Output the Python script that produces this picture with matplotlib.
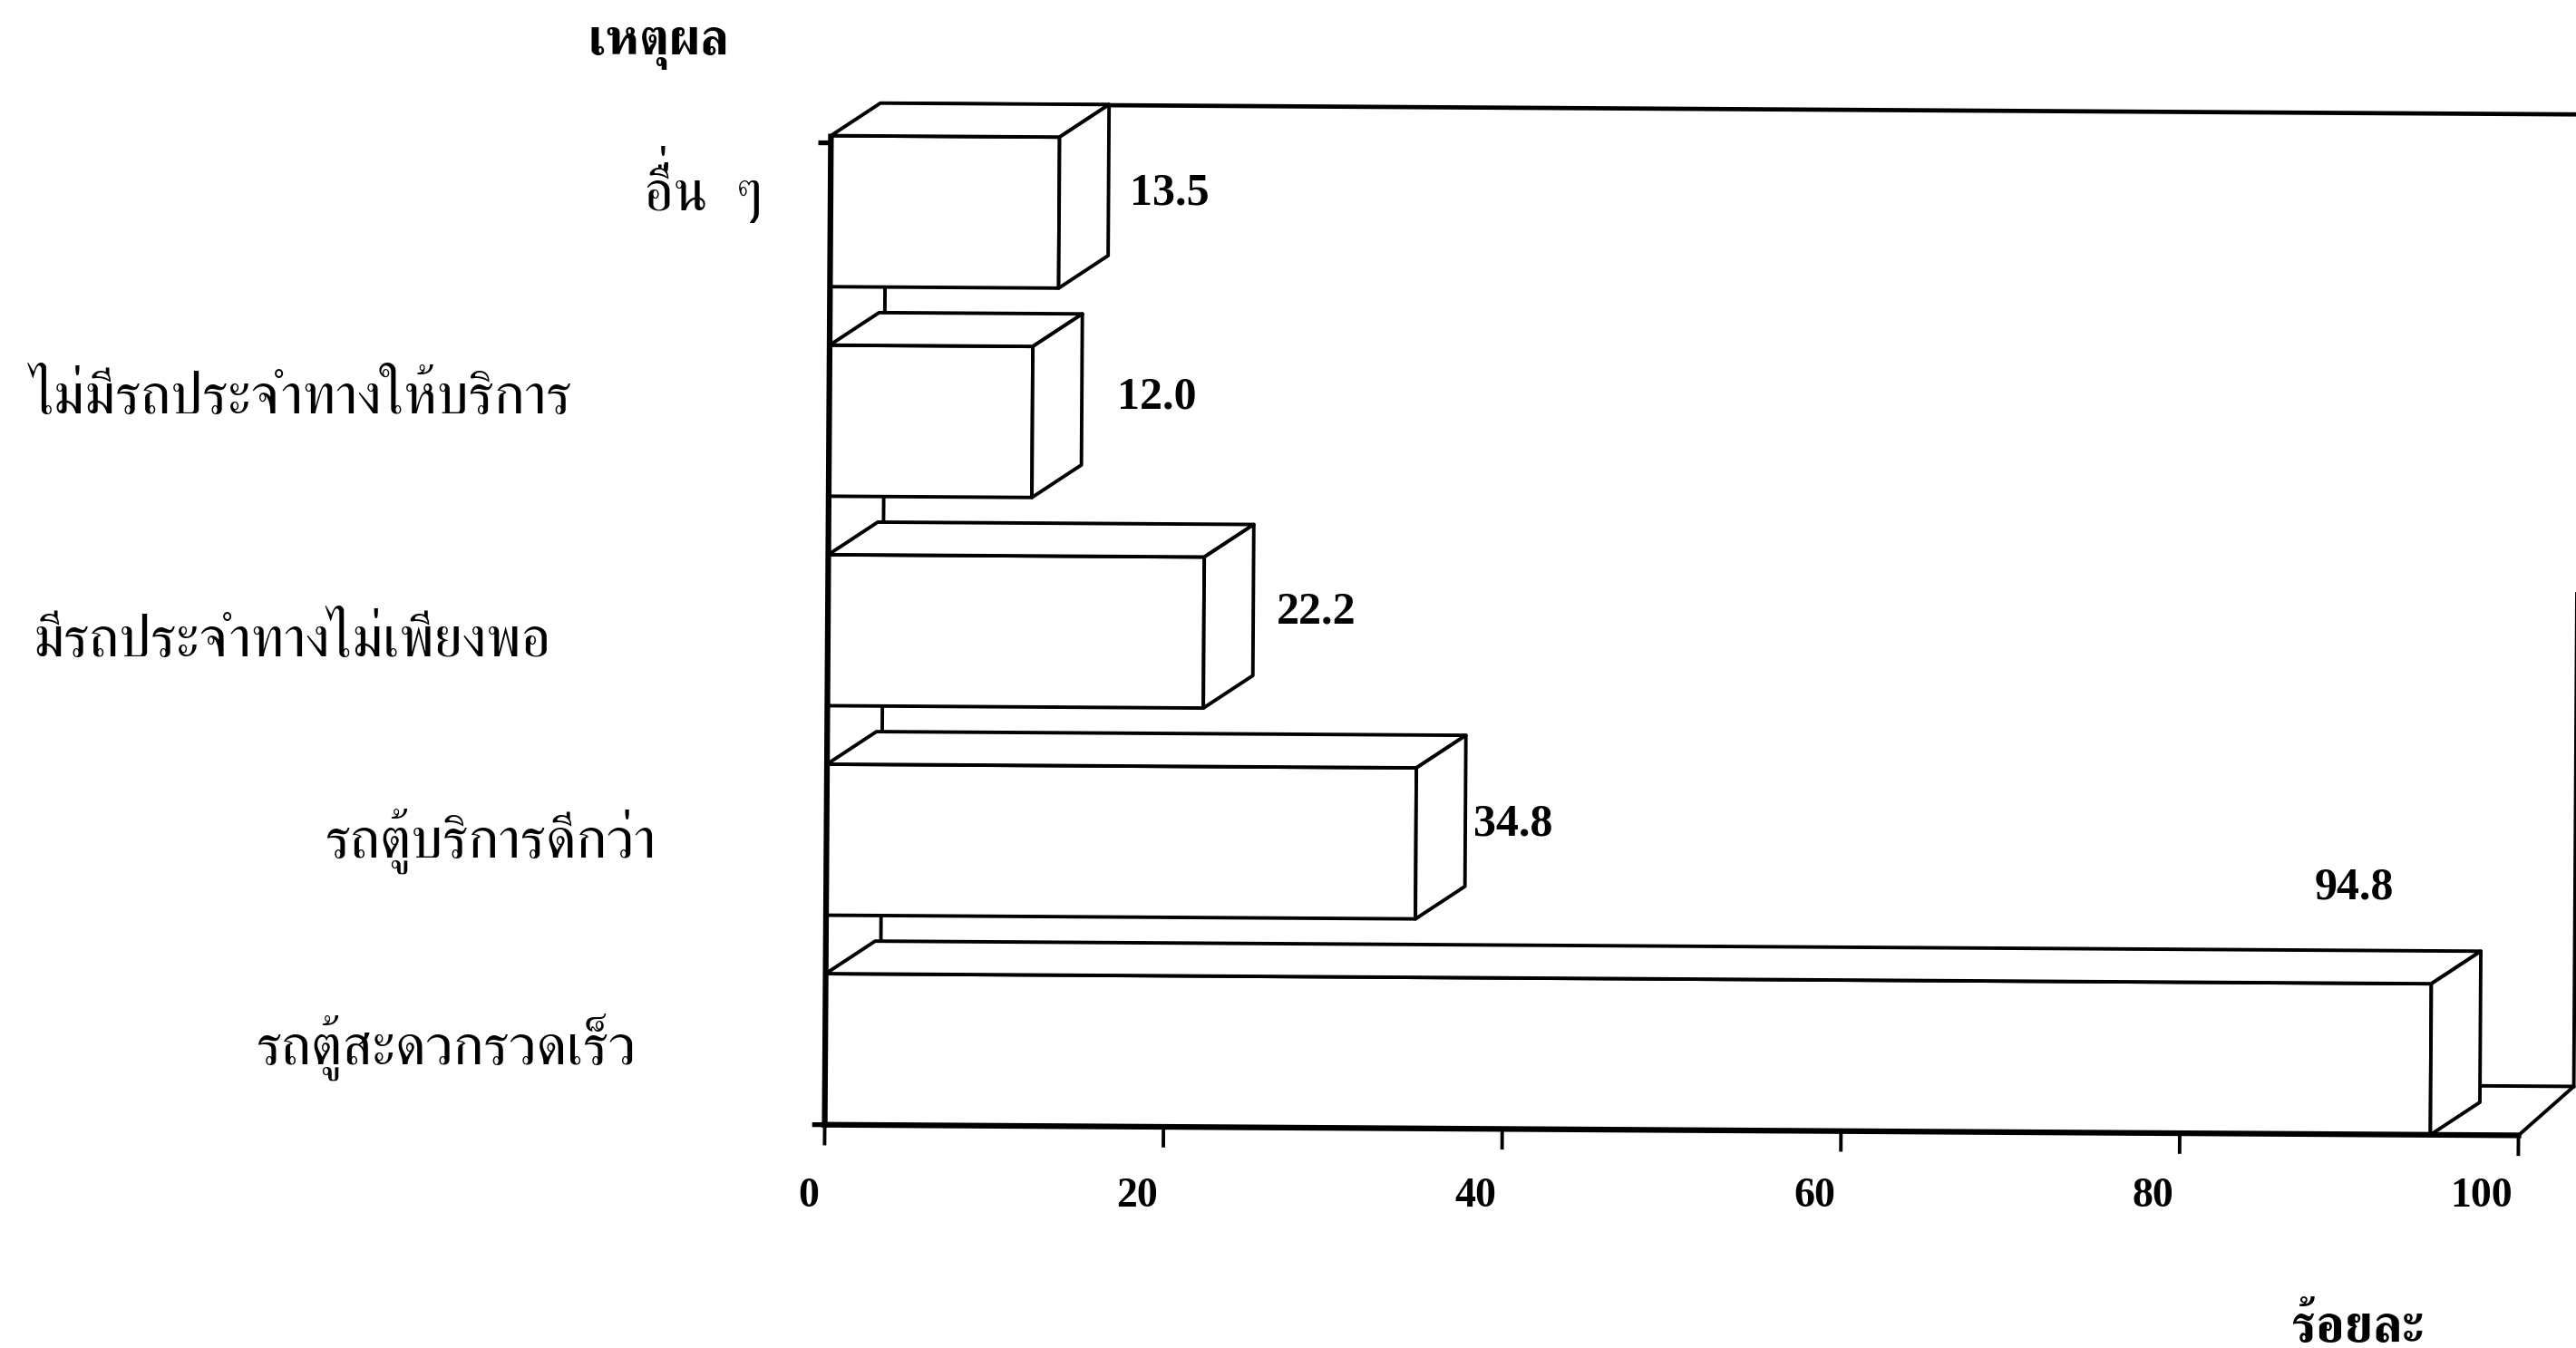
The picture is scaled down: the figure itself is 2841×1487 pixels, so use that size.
'''
Bar chart of reasons (percent), drawn as 3D looking boxes like the scanned original.
Usage: python plot.py
Outputs: out.png
'''
import matplotlib
matplotlib.use("Agg")
import matplotlib.pyplot as plt
from matplotlib.patches import Polygon
from matplotlib.transforms import Affine2D, ScaledTranslation

# Data, bottom row first
categories = ["รถตู้สะดวกรวดเร็ว", "รถตู้บริการดีกว่า", "มีรถประจำทางไม่เพียงพอ",
              "ไม่มีรถประจำทางให้บริการ", "อื่น  ๆ"]
percents = [94.8, 34.8, 22.2, 12.0, 13.5]
value_labels = ["94.8", "34.8", "22.2", "12.0", "13.5"]
x_ticks = [0, 20, 40, 60, 80, 100]
y_title = "เหตุผล"
x_title = "ร้อยละ"

# Layout: sizes of the shrunk 1568x821 view, used to place things by fraction
VIEW_W, VIEW_H = 1568.0, 821.0
X0, X100 = 502.0, 1533.0
Y_BOTTOM, Y_TOP = 685.0, 87.0
ROW_PX = 127.6
ROW0_PX = 639.0
BAR_H = 92.0 / ROW_PX
PX_X = 100 / (X100 - X0)            # one view pixel in data units
DX = 30.0 * PX_X                    # depth of the boxes
DY = 20.0 / ROW_PX
WALL_DX = 33.5 * PX_X               # depth of the walls behind them
WALL_TOP_DY = 24.0 / ROW_PX
FLOOR_DY = 30.0 / ROW_PX
SKEW_DEG = -0.36                    # the scan is slightly turned

# where the row labels sit (left edge, baseline) - they are not aligned in the original
label_pos = [(156, 648), (198, 522), (20, 400), (18, 252), (392, 128)]
# value labels (centre)
value_pos = [(1433, 541), (921, 502), (801, 373), (704, 242), (712, 118)]

THAI = ["FreeSerif"]
NUMS = ["Liberation Serif"]
LW = 2.8


def view_xy(x, y):
    """Turn a view position into figure fractions."""
    return x / VIEW_W, 1 - y / VIEW_H


def draw_walls(ax, tr, ymin, ymax):
    """Back wall and floor of the 3D box behind the bars."""
    back_x = WALL_DX
    right_x = 100 + WALL_DX
    top_y = ymax + WALL_TOP_DY
    floor_y = ymin + FLOOR_DY
    ax.plot([back_x, back_x], [floor_y, top_y], color="black", lw=LW, transform=tr, clip_on=False)
    ax.plot([back_x, right_x], [top_y, top_y], color="black", lw=LW + 0.6, transform=tr, clip_on=False)
    ax.plot([right_x, right_x], [top_y, floor_y], color="black", lw=LW, transform=tr, clip_on=False)
    ax.plot([back_x, right_x, 100], [floor_y, floor_y, ymin], color="black", lw=LW,
            transform=tr, clip_on=False)


def draw_box(ax, tr, row, value, z):
    """One bar: front face, top face and side face."""
    low = row - BAR_H / 2
    high = row + BAR_H / 2
    faces = [
        [(0, low), (value, low), (value, high), (0, high)],
        [(0, high), (value, high), (value + DX, high + DY), (DX, high + DY)],
        [(value, low), (value + DX, low + DY), (value + DX, high + DY), (value, high)],
    ]
    for face in faces:
        ax.add_patch(Polygon(face, closed=True, facecolor="white", edgecolor="black", lw=LW,
                             joinstyle="round", transform=tr, clip_on=False, zorder=z))


def main():
    fig = plt.figure(figsize=(28.41, 14.87), dpi=100, facecolor="white")
    left, bottom = view_xy(X0, Y_BOTTOM)
    right, top = view_xy(X100, Y_TOP)
    ax = fig.add_axes([left, bottom, right - left, top - bottom])

    ymin = -(Y_BOTTOM - ROW0_PX) / ROW_PX
    ymax = (ROW0_PX - Y_TOP) / ROW_PX
    ax.set_xlim(0, 100)
    ax.set_ylim(ymin, ymax)
    for spine in ax.spines.values():
        spine.set_visible(False)
    ax.patch.set_visible(False)
    ax.set_yticks([])
    ax.set_xticks(x_ticks, [str(t) for t in x_ticks], family=NUMS, weight="bold", fontsize=33, ha="right")
    ax.tick_params(axis="x", length=0, pad=42)
    # labels sit a little left of their ticks
    shift = ScaledTranslation(-4.5 / 72, 0, fig.dpi_scale_trans)
    for label in ax.get_xticklabels():
        label.set_transform(label.get_transform() + shift)

    # whole drawing turned around the chart origin, as in the scan
    ox = X0 / VIEW_W * 2841
    oy = (1 - Y_BOTTOM / VIEW_H) * 1487
    tr = ax.transData + Affine2D().rotate_deg_around(ox, oy, SKEW_DEG)

    draw_walls(ax, tr, ymin, ymax)

    # top rows are furthest back
    for row in range(len(percents) - 1, -1, -1):
        draw_box(ax, tr, row, percents[row], 5 + len(percents) - row)

    # axis lines and tick marks
    ax.plot([0, 0], [ymin, ymax + 0.03], color="black", lw=4.5, transform=tr, clip_on=False, zorder=20)
    ax.plot([0, 100], [ymin, ymin], color="black", lw=4.5, transform=tr, clip_on=False, zorder=20)
    for t in x_ticks:
        ax.plot([t, t], [ymin, ymin - 0.09], color="black", lw=LW, transform=tr, clip_on=False, zorder=20)
    for y in (ymin, ymax):
        ax.plot([-0.6, 0], [y, y], color="black", lw=LW + 1, transform=tr, clip_on=False, zorder=20)

    for text, (x, y) in zip(categories, label_pos):
        fx, fy = view_xy(x, y)
        fig.text(fx, fy, text, family=THAI, fontsize=45.5, color="black", ha="left", va="baseline")
    for text, (x, y) in zip(value_labels, value_pos):
        fx, fy = view_xy(x, y)
        fig.text(fx, fy, text, family=NUMS, weight="bold", fontsize=36, color="black", ha="center", va="center")

    # no mark stacking in matplotlib: the tone mark of the top label is hidden by its vowel, lift a copy
    # (the trailing space gives the zero width mark a size)
    fx, fy = view_xy(408, 118)
    fig.text(fx, fy, "\u0e48 ", family=THAI, fontsize=45.5, color="black", ha="left", va="baseline")

    fx, fy = view_xy(401, 33)
    fig.text(fx, fy, y_title, family=THAI, weight="bold", fontsize=40, ha="center", va="baseline")
    fx, fy = view_xy(1435, 817)
    fig.text(fx, fy, x_title, family=THAI, weight="bold", fontsize=41, ha="center", va="baseline")

    fig.savefig("out.png", dpi=100, facecolor="white")


if __name__ == "__main__":
    main()
